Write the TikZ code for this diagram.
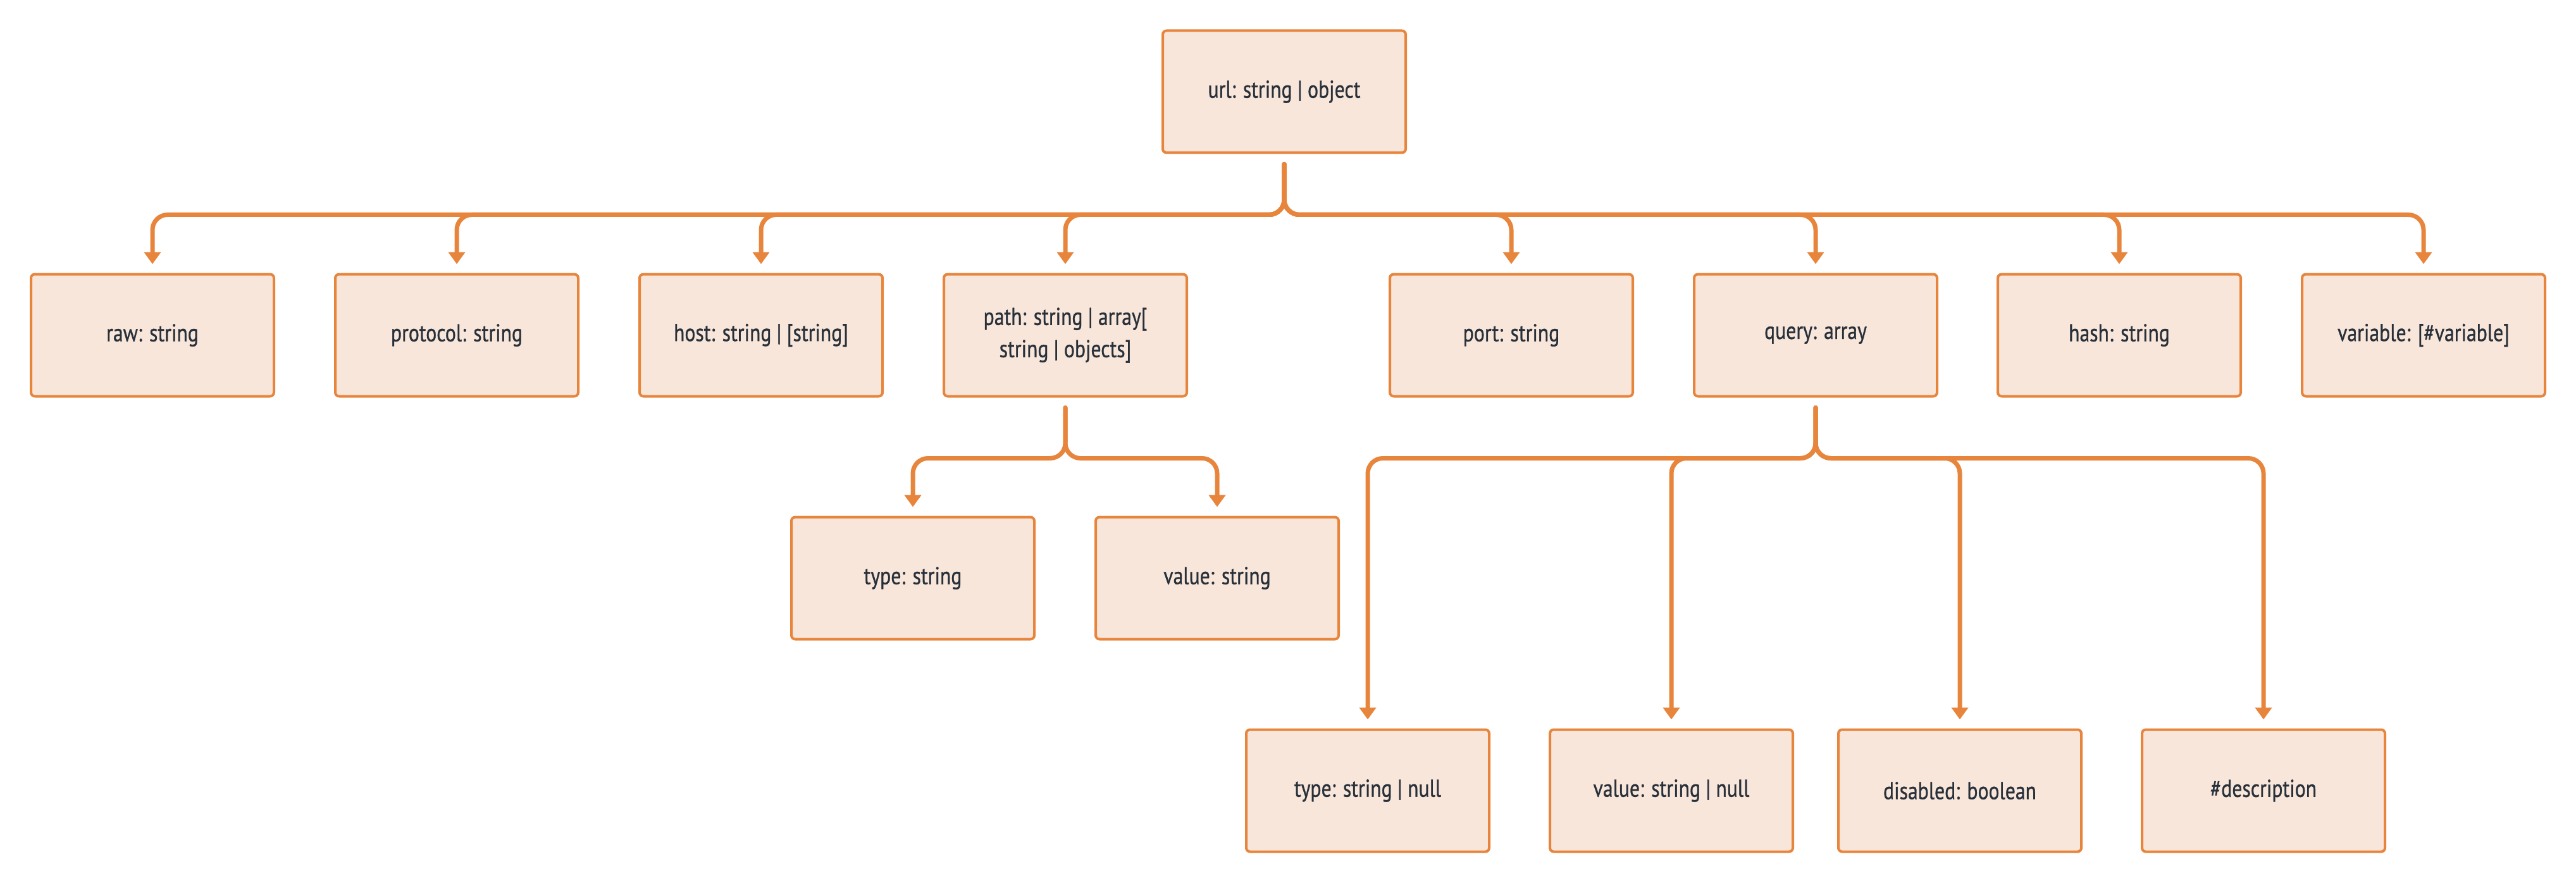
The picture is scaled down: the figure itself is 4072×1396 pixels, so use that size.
\documentclass[tikz,border=0pt]{standalone}
\usepackage{fontspec}
\setmainfont{PT Sans}[FakeStretch=0.82, FakeBold=0.8]
\usetikzlibrary{arrows.meta}
\definecolor{boxline}{RGB}{231,133,60}
\definecolor{boxfill}{RGB}{249,230,218}
\definecolor{boxtext}{RGB}{40,48,58}
\tikzset{
  field/.style={draw=boxline, fill=boxfill, line width=0.4mm, rounded corners=0.6mm,
    minimum width=38.4mm, minimum height=19.3mm, inner sep=0pt, align=center,
    text=boxtext, font=\fontsize{11}{14.5}\selectfont},
  link/.style={draw=boxline, line width=0.7mm, line cap=round, rounded corners=2.4mm,
    -{Triangle[width=2.6mm,length=1.9mm]}, shorten <=1.6mm, shorten >=1.4mm,
    to path={-- ++(0,-9.6mm) -| (\tikztotarget)}},
}
\begin{document}
\begin{tikzpicture}[x=0.1mm, y=-0.1mm]
  \useasboundingbox (0,0) rectangle (4072,1396);
  % root
  \node[field] (url) at (2030,145) {url: string | object};
  % first level
  \node[field] (raw) at (241,530) {raw: string};
  \node[field] (protocol) at (722,530) {protocol: string};
  \node[field] (host) at (1203,530) {host: string | [string]};
  \node[field] (path) at (1684,530) {path: string | array[\\string | objects]};
  \node[field] (port) at (2389,530) {port: string};
  \node[field] (query) at (2870,530) {query: array};
  \node[field] (hash) at (3350,530) {hash: string};
  \node[field] (variable) at (3831,530) {variable: [\#variable]};
  % path items
  \node[field] (pathtype) at (1443,914) {type: string};
  \node[field] (pathvalue) at (1924,914) {value: string};
  % query items
  \node[field] (qtype) at (2162,1250) {type: string | null};
  \node[field] (qvalue) at (2642,1250) {value: string | null};
  \node[field] (qdisabled) at (3098,1250) {disabled: boolean};
  \node[field] (qdesc) at (3578,1250) {\#description};
  % connectors
  \foreach \c in {raw,protocol,host,path,port,query,hash,variable}
    \draw[link] (url.south) to (\c.north);
  \foreach \c in {pathtype,pathvalue}
    \draw[link] (path.south) to (\c.north);
  \foreach \c in {qtype,qvalue,qdisabled,qdesc}
    \draw[link] (query.south) to (\c.north);
\end{tikzpicture}
\end{document}
